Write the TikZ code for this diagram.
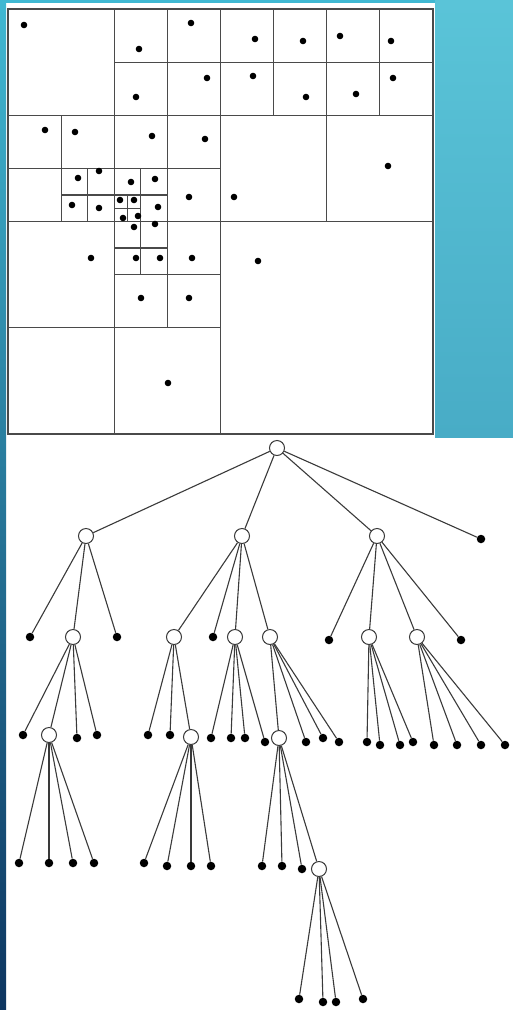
\documentclass[tikz,border=0pt]{standalone}
\usetikzlibrary{calc}
\definecolor{cyanA}{HTML}{5AC4D8}
\definecolor{cyanB}{HTML}{48ACC6}
\definecolor{stripTop}{HTML}{40B8D2}
\definecolor{stripMid}{HTML}{2590B8}
\definecolor{stripBot}{HTML}{0D3560}
\definecolor{qline}{HTML}{4A4A4A}
\definecolor{tline}{HTML}{3A3A3A}
\tikzset{
  qgrid/.style={draw=qline, line width=1.2pt},
  qdot/.style={fill=black},
  inode/.style={circle, draw=tline, fill=white, line width=1pt, minimum size=15pt, inner sep=0pt},
  lnode/.style={circle, fill=black, minimum size=8.5pt, inner sep=0pt},
  edge/.style={draw=tline, line width=1.1pt}
}
\begin{document}
\begin{tikzpicture}[x=1pt,y=-1pt]
\useasboundingbox (0,0) rectangle (513,1010);
% background
\fill[white] (0,0) rectangle (513,1010);
\shade[top color=cyanA, bottom color=cyanB] (435,0) rectangle (513,437);
\fill[stripTop] (0,0) rectangle (435,3);
\shade[top color=stripTop, middle color=stripMid, bottom color=stripBot] (0,0) rectangle (6,1010);

% quadtree
\begin{scope}[shift={(8,9)}]
\begin{scope}[x=53.125pt,y=-53.125pt]
\draw[qgrid] (0,0) rectangle (8,8);
\draw[qgrid] (4,0) -- (4,8) (0,4) -- (8,4);
% top-left quadrant
\draw[qgrid] (2,0) -- (2,4) (0,2) -- (8,2);
\draw[qgrid] (3,0) -- (3,4) (2,1) -- (8,1);
\draw[qgrid] (1,2) -- (1,4) (0,3) -- (4,3);
\draw[qgrid] (1.5,3) -- (1.5,4) (1,3.5) -- (3,3.5);
\draw[qgrid] (2.5,3) -- (2.5,5);
\draw[qgrid] (2.25,3.5) -- (2.25,4) (2,3.75) -- (2.5,3.75);
% bottom-left quadrant
\draw[qgrid] (2,4) -- (2,8) (0,6) -- (4,6);
\draw[qgrid] (3,4) -- (3,6) (2,5) -- (4,5);
\draw[qgrid] (2,4.5) -- (3,4.5);
% top-right quadrant
\draw[qgrid] (6,0) -- (6,4);
\draw[qgrid] (5,0) -- (5,2) (7,0) -- (7,2);
\end{scope}
\end{scope}
% quadtree points
\foreach \p in {(24,25),(139,49),(191,23),(136,97),(207,78),
  (45,130),(75,132),(78,178),(99,171),(72,205),(99,208),
  (152,136),(205,139),(189,197),(131,182),(155,179),(158,207),
  (120,200),(134,200),(123,218),(138,216),
  (91,258),(134,227),(155,224),(136,258),(160,258),(192,258),
  (141,298),(189,298),(168,383),
  (255,39),(303,41),(253,76),(306,97),(340,36),(391,41),(356,94),(393,78),
  (234,197),(388,166),(258,261)}
  \fill[qdot] \p circle (3.3);

% tree
\node[inode] (R) at (277,448) {};
\node[inode] (A) at (86,536) {};
\node[inode] (B) at (242,536) {};
\node[inode] (C) at (377,536) {};
\node[lnode] (D) at (481,539) {};
% A subtree
\node[lnode] (A1) at (30,637) {};
\node[inode] (A2) at (73,637) {};
\node[lnode] (A3) at (117,637) {};
\node[lnode] (A21) at (23,735) {};
\node[inode] (A22) at (49,735) {};
\node[lnode] (A23) at (77,738) {};
\node[lnode] (A24) at (97,735) {};
\node[lnode] (A221) at (19,863) {};
\node[lnode] (A222) at (49,863) {};
\node[lnode] (A223) at (73,863) {};
\node[lnode] (A224) at (94,863) {};
% B subtree
\node[inode] (B1) at (174,637) {};
\node[lnode] (B2) at (213,637) {};
\node[inode] (B3) at (235,637) {};
\node[inode] (B4) at (270,637) {};
\node[lnode] (B11) at (148,735) {};
\node[lnode] (B12) at (170,735) {};
\node[inode] (B13) at (191,737) {};
\node[lnode] (B131) at (144,863) {};
\node[lnode] (B132) at (167,866) {};
\node[lnode] (B133) at (191,866) {};
\node[lnode] (B134) at (211,866) {};
\node[lnode] (B31) at (211,738) {};
\node[lnode] (B32) at (231,738) {};
\node[lnode] (B33) at (245,738) {};
\node[lnode] (B34) at (265,742) {};
\node[inode] (B41) at (279,738) {};
\node[lnode] (B42) at (306,742) {};
\node[lnode] (B43) at (323,738) {};
\node[lnode] (B44) at (339,742) {};
\node[lnode] (B411) at (262,866) {};
\node[lnode] (B412) at (282,866) {};
\node[lnode] (B413) at (302,869) {};
\node[inode] (B414) at (319,869) {};
\node[lnode] (B4141) at (299,999) {};
\node[lnode] (B4142) at (323,1002) {};
\node[lnode] (B4143) at (336,1002) {};
\node[lnode] (B4144) at (363,999) {};
% C subtree
\node[lnode] (C1) at (329,640) {};
\node[inode] (C2) at (369,637) {};
\node[inode] (C3) at (417,637) {};
\node[lnode] (C4) at (461,640) {};
\node[lnode] (C21) at (367,742) {};
\node[lnode] (C22) at (380,745) {};
\node[lnode] (C23) at (400,745) {};
\node[lnode] (C24) at (413,742) {};
\node[lnode] (C31) at (434,745) {};
\node[lnode] (C32) at (457,745) {};
\node[lnode] (C33) at (481,745) {};
\node[lnode] (C34) at (505,745) {};

\foreach \a/\b in {R/A,R/B,R/C,R/D,
  A/A1,A/A2,A/A3,A2/A21,A2/A22,A2/A23,A2/A24,
  A22/A221,A22/A222,A22/A223,A22/A224,
  B/B1,B/B2,B/B3,B/B4,B1/B11,B1/B12,B1/B13,
  B13/B131,B13/B132,B13/B133,B13/B134,
  B3/B31,B3/B32,B3/B33,B3/B34,
  B4/B41,B4/B42,B4/B43,B4/B44,
  B41/B411,B41/B412,B41/B413,B41/B414,
  B414/B4141,B414/B4142,B414/B4143,B414/B4144,
  C/C1,C/C2,C/C3,C/C4,C2/C21,C2/C22,C2/C23,C2/C24,
  C3/C31,C3/C32,C3/C33,C3/C34}
  \draw[edge] (\a) -- (\b);
\end{tikzpicture}
\end{document}
